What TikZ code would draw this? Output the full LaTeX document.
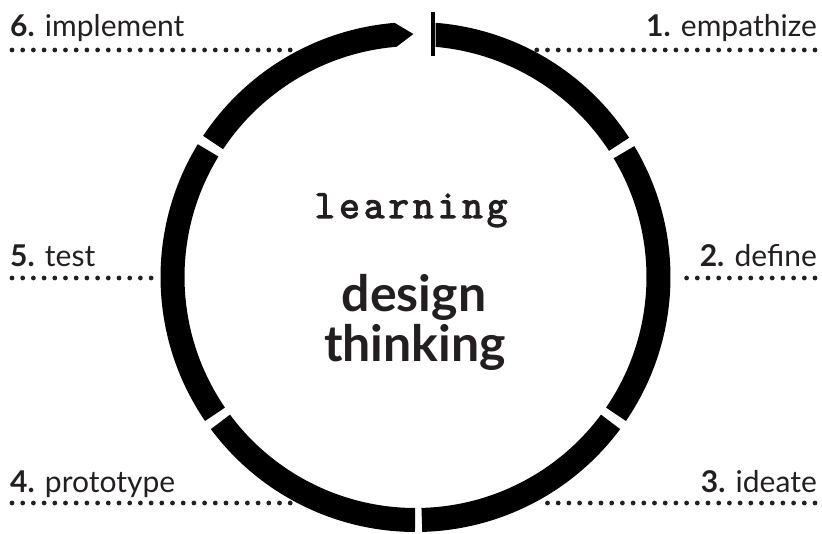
\documentclass[tikz,border=0pt]{standalone}
\usepackage{fontspec}
\setmainfont{Lato}
\newfontfamily\typefont{Latin Modern Mono}[LetterSpace=10, FakeBold=3]
\definecolor{ink}{HTML}{231F20}

\tikzset{
  ring/.style={line width=24pt, draw=black, line cap=butt},
  dotline/.style={draw=ink, line width=4.8pt, line cap=round,
                  dash pattern=on 0pt off 10.7pt},
  steplabel/.style={inner sep=0pt, text=ink,
                    font=\fontsize{30}{32}\selectfont},
  titletext/.style={inner sep=0pt, text=ink, align=center,
                    font=\fontsize{50}{50}\selectfont\bfseries},
  handtext/.style={inner sep=0pt, text=ink,
                   font=\fontsize{40}{40}\selectfont\typefont},
}

\begin{document}
\begin{tikzpicture}[x=1pt,y=1pt]
\useasboundingbox (0,0) rectangle (822,533);

% the cycle ring, drawn around its centre
\begin{scope}[shift={(415.5,256)}]
  \coordinate (hub) at (0,0);
  % 1 -> 2, starting with a straight vertical cut at the start mark
  \fill[black] (85.5:255) arc[start angle=85.5, end angle=33.1, radius=255]
    -- (33.1:231) arc[start angle=33.1, end angle=85.0, radius=231] -- cycle;
  % 2 -> 3
  \draw[ring] (30.9:243) arc[start angle=30.9, end angle=-34.4, radius=243];
  % 3 -> 4
  \draw[ring] (-36.6:243) arc[start angle=-36.6, end angle=-88.5, radius=243];
  % 4 -> 5
  \draw[ring] (-90.1:243) arc[start angle=-90.1, end angle=-143.4, radius=243];
  % 5 -> 6
  \draw[ring] (214.4:243) arc[start angle=214.4, end angle=148.6, radius=243];
  % 6 -> back to start, ending in a point
  \fill[black] (146.4:255) arc[start angle=146.4, end angle=94.7, radius=255]
    -- (90.5:243) -- (94.7:231)
    arc[start angle=94.7, end angle=146.4, radius=231] -- cycle;
  % start mark
  \draw[black, line width=4.6pt] (17.6,221) -- (17.6,265);
\end{scope}

% step labels
\node[steplabel, anchor=base west] (implement) at (10,496) {\textbf{6.} implement};
\node[steplabel, anchor=base east] (empathize) at (817,496) {\textbf{1.} empathize};
\node[steplabel, anchor=base west] (test) at (10,266) {\textbf{5.} test};
\node[steplabel, anchor=base east] (define) at (817,266) {\textbf{2.} define};
\node[steplabel, anchor=base west] (prototype) at (10,41) {\textbf{4.} prototype};
\node[steplabel, anchor=base east] (ideate) at (817,41) {\textbf{3.} ideate};

% dotted leaders from each label to the ring
\coordinate (implementA) at (12,483);  \coordinate (implementB) at (298,483);
\coordinate (empathizeA) at (815,483); \coordinate (empathizeB) at (533,483);
\coordinate (testA) at (12,255);       \coordinate (testB) at (154,255);
\coordinate (defineA) at (815,255);    \coordinate (defineB) at (676,255);
\coordinate (prototypeA) at (12,30);   \coordinate (prototypeB) at (292,30);
\coordinate (ideateA) at (815,30);     \coordinate (ideateB) at (538,30);
\draw[dotline] (implementA) -- (implementB);
\draw[dotline] (empathizeA) -- (empathizeB);
\draw[dotline] (testA) -- (testB);
\draw[dotline] (defineA) -- (defineB);
\draw[dotline] (prototypeA) -- (prototypeB);
\draw[dotline] (ideateA) -- (ideateB);

% centre titles
\node[handtext, anchor=base] (learning) at (411,315) {learning};
\node[titletext, anchor=base] (design) at (414,221) {design};
\node[titletext, anchor=base] (thinking) at (415,171) {thinking};
\end{tikzpicture}
\end{document}
